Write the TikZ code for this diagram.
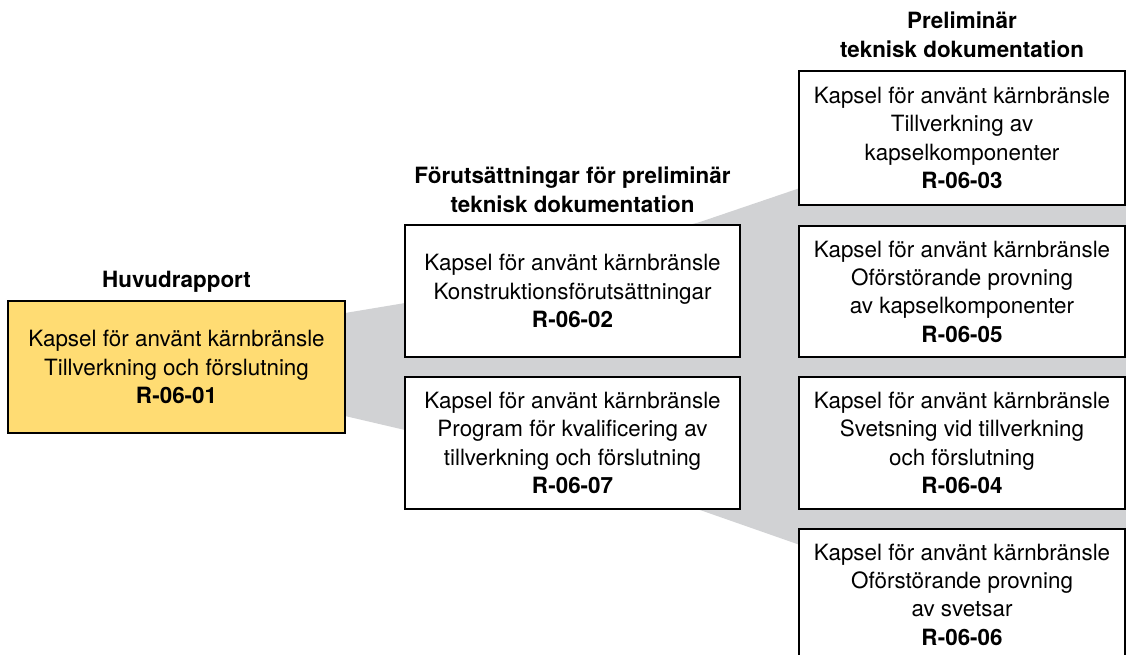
\documentclass[tikz,border=0pt]{standalone}
\usepackage{fontspec}
\setmainfont{TeX Gyre Heros}
\definecolor{fillgray}{RGB}{209,210,212}
\definecolor{boxyellow}{RGB}{255,220,115}
\begin{document}
\begin{tikzpicture}[x=1pt,y=-1pt,
  every node/.style={font=\fontsize{22.4}{28.3}\selectfont, align=center},
  docbox/.style={draw=black, line width=1.3pt, fill=white, inner sep=0pt},
  mainbox/.style={docbox, fill=boxyellow},
  heading/.style={font=\fontsize{22.4}{29}\selectfont\bfseries, inner sep=0pt}]
\clip (0,0) rectangle (1126,655);
\useasboundingbox (0,0) rectangle (1126,655);
% gray funnel background
\fill[fillgray] (345,313) -- (405,303) -- (700,222) -- (800,188) -- (1126,188)
  -- (1126,545) -- (800,545) -- (700,510) -- (405,430) -- (345,416) -- cycle;
% headings
\node[heading] (h1) at (176.5,282) {Huvudrapport};
\node[heading] (h2) at (572.5,190) {Förutsättningar för preliminär\\teknisk dokumentation};
\node[heading] (h3) at (962,35) {Preliminär\\teknisk dokumentation};
% main box
\node[mainbox, minimum width=337pt, minimum height=132pt] (r01) at (176.5,367)
  {Kapsel för använt kärnbränsle\\Tillverkning och förslutning\\\textbf{R-06-01}};
% middle column
\node[docbox, minimum width=335pt, minimum height=132pt] (r02) at (572.5,291)
  {Kapsel för använt kärnbränsle\\Konstruktionsförutsättningar\\\textbf{R-06-02}};
\node[docbox, minimum width=335pt, minimum height=132pt] (r07) at (572.5,443)
  {Kapsel för använt kärnbränsle\\Program för kvalificering av\\tillverkning och förslutning\\\textbf{R-06-07}};
% right column
\node[docbox, minimum width=326pt, minimum height=134pt] (r03) at (962,138)
  {Kapsel för använt kärnbränsle\\Tillverkning av\\kapselkomponenter\\\textbf{R-06-03}};
\node[docbox, minimum width=326pt, minimum height=131pt] (r05) at (962,291.5)
  {Kapsel för använt kärnbränsle\\Oförstörande provning\\av kapselkomponenter\\\textbf{R-06-05}};
\node[docbox, minimum width=326pt, minimum height=132pt] (r04) at (962,443)
  {Kapsel för använt kärnbränsle\\Svetsning vid tillverkning\\och förslutning\\\textbf{R-06-04}};
\node[docbox, minimum width=326pt, minimum height=131pt] (r06) at (962,594.5)
  {Kapsel för använt kärnbränsle\\Oförstörande provning\\av svetsar\\\textbf{R-06-06}};
\end{tikzpicture}
\end{document}
